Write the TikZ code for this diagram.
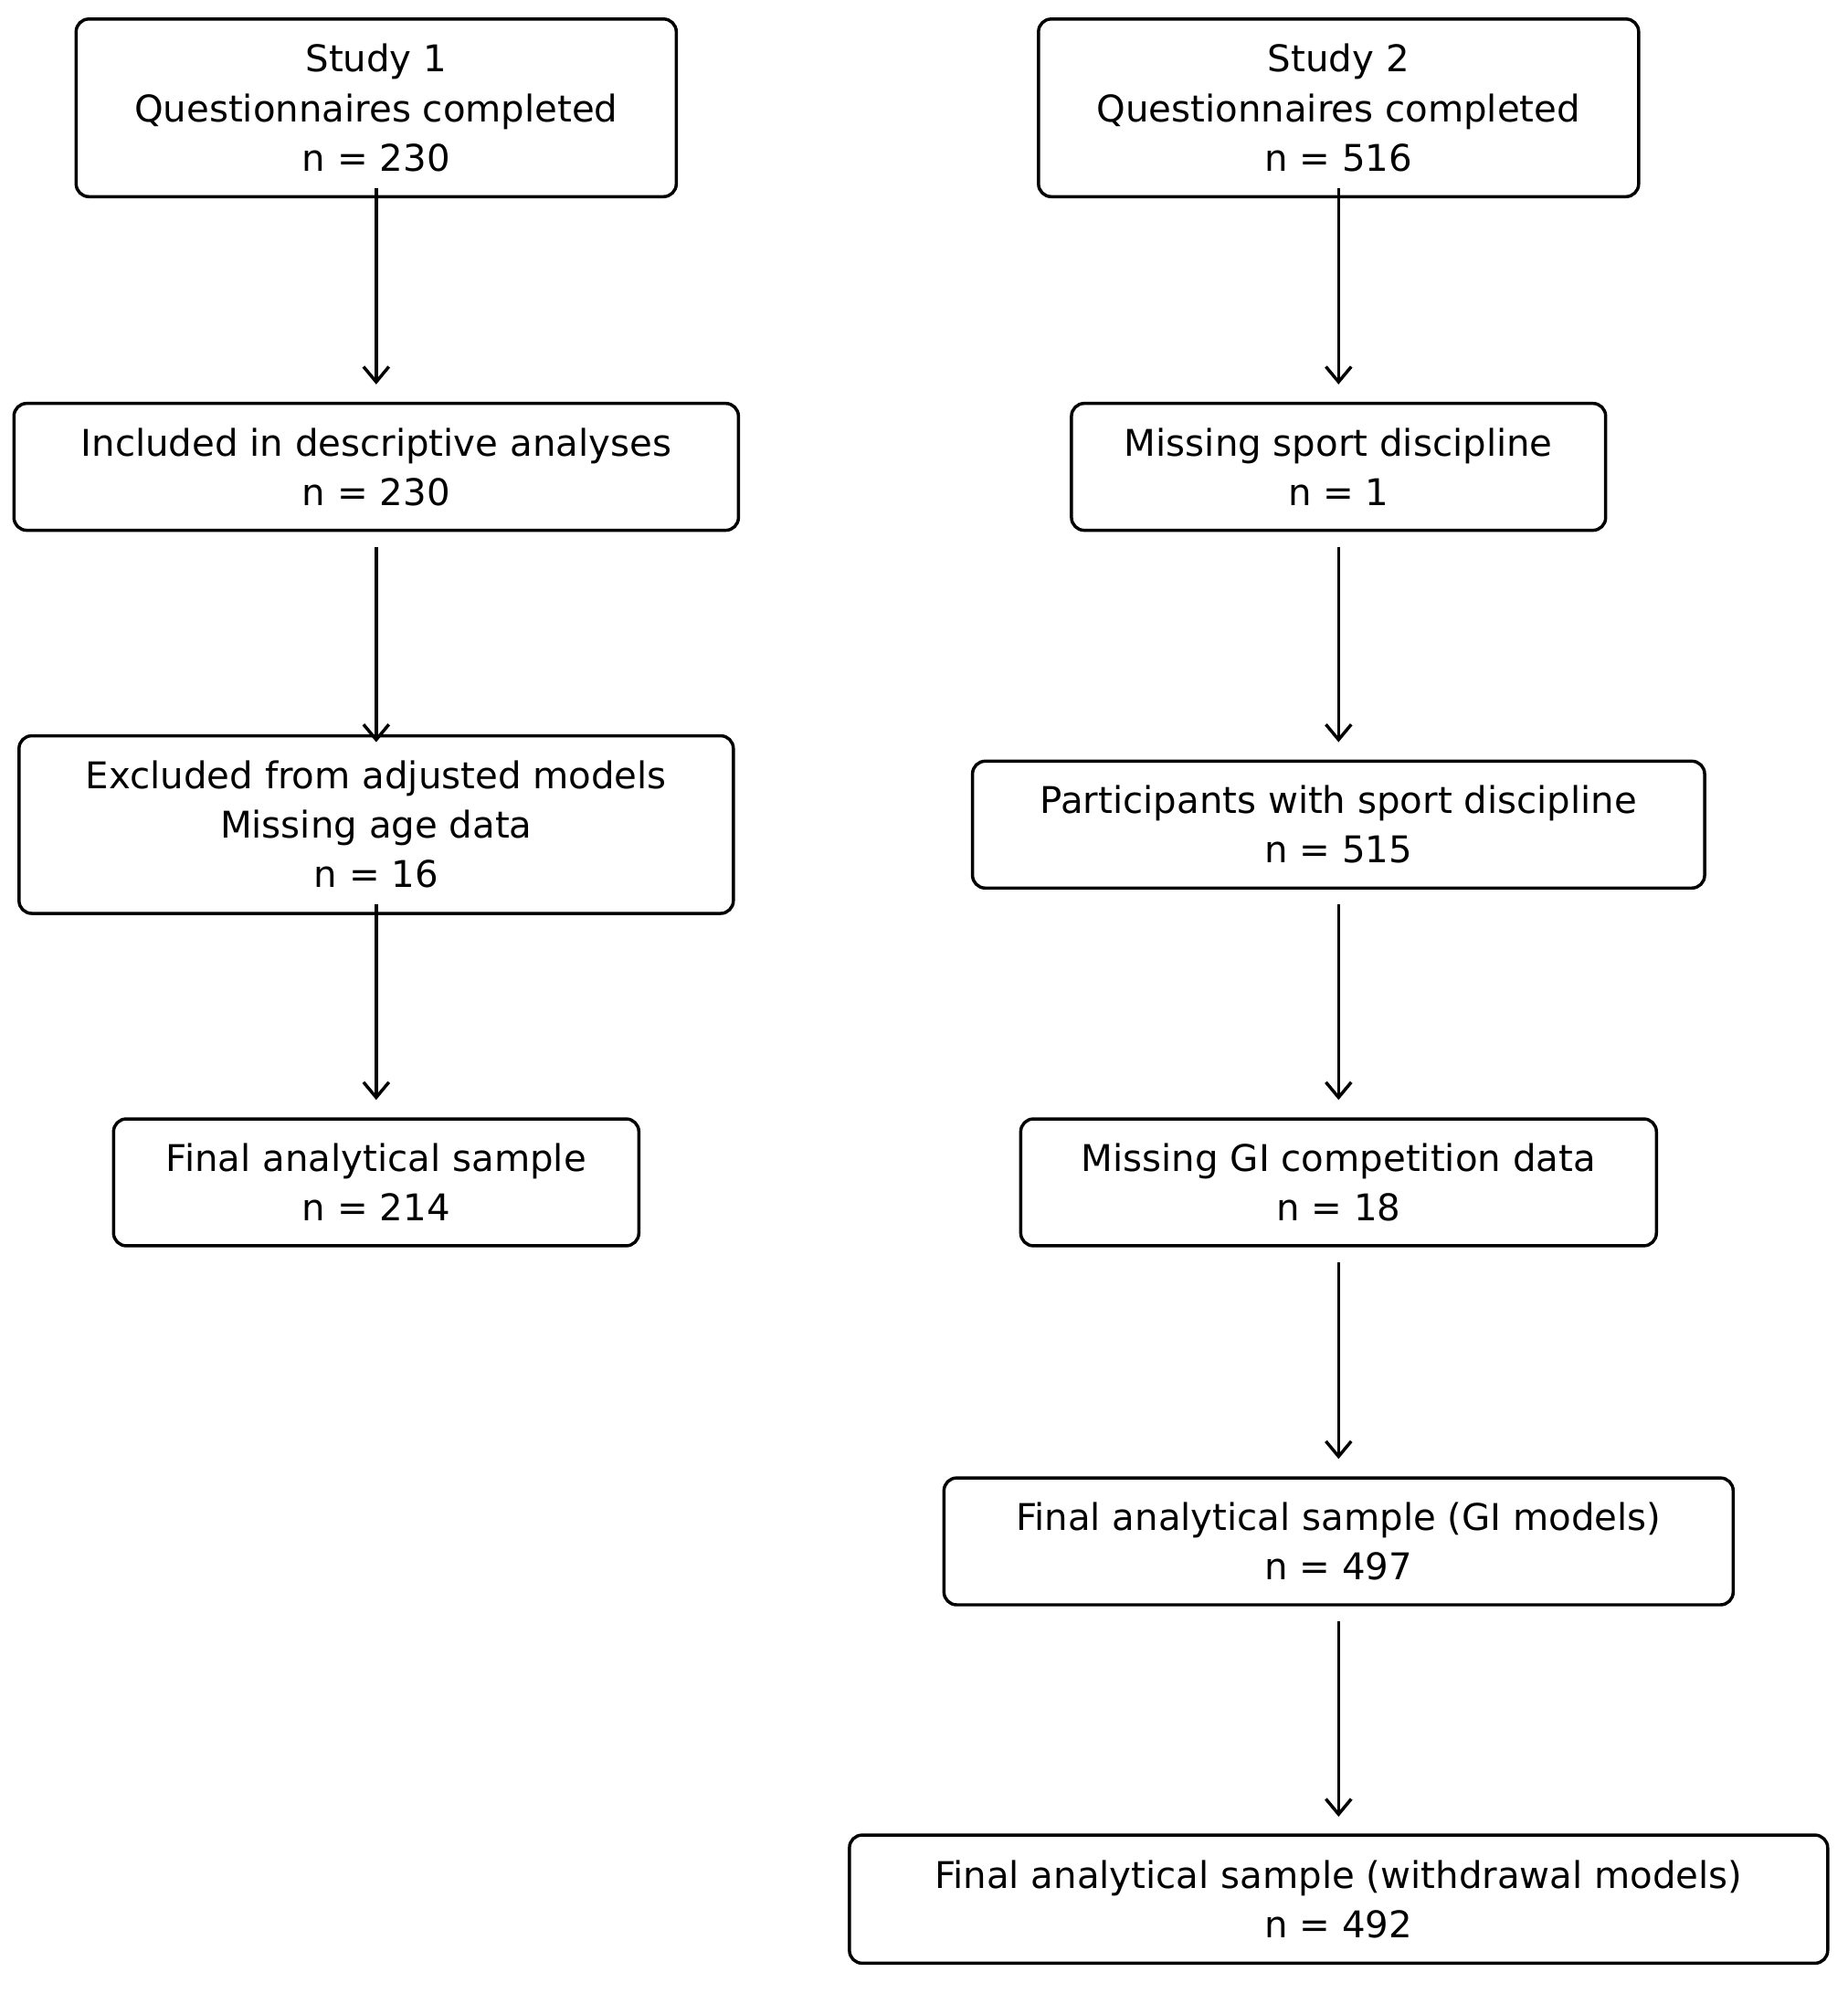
\documentclass[tikz,border=0pt]{standalone}
\usepackage{fontspec}
\setmainfont{DejaVu Sans}
\usetikzlibrary{arrows.meta,calc}
\begin{document}
\begin{tikzpicture}[x=1pt,y=-1pt,
  box/.style={draw,line width=2.5pt,rounded corners=10pt,align=center,inner sep=0pt,
    font=\fontsize{29}{39}\selectfont},
  arr/.style={line width=2.5pt,-{Straight Barb[length=12pt,width=20pt,line width=2.5pt]}}]
\useasboundingbox (0,0) rectangle (1456,1571);
\newcommand\bx[6]{\node[box,minimum width=#4,minimum height=#5] (#1) at (#2,#3) {#6};}
\bx{l1}{296.5}{85}{473}{140}{Study 1\\Questionnaires completed\\n = 230}
\bx{l2}{296.5}{368}{571}{100}{Included in descriptive analyses\\n = 230}
\bx{l3}{296.5}{650}{563}{140}{Excluded from adjusted models\\Missing age data\\n = 16}
\bx{l4}{296.5}{932}{414}{100}{Final analytical sample\\n = 214}
\bx{r1}{1055}{85}{473}{140}{Study 2\\Questionnaires completed\\n = 516}
\bx{r2}{1055}{368}{421}{100}{Missing sport discipline\\n = 1}
\bx{r3}{1055}{650}{577}{100}{Participants with sport discipline\\n = 515}
\bx{r4}{1055}{932}{501}{100}{Missing GI competition data\\n = 18}
\bx{r5}{1055}{1215}{622}{100}{Final analytical sample (GI models)\\n = 497}
\bx{r6}{1055}{1497}{771}{101}{Final analytical sample (withdrawal models)\\n = 492}
\foreach \a/\b in {l1/l2,l2/l3,l3/l4,r1/r2,r2/r3,r3/r4,r4/r5,r5/r6}
  \draw[arr] ($(\a.center)+(0,63)$) -- ($(\b.center)+(0,-65)$);
\end{tikzpicture}
\end{document}
